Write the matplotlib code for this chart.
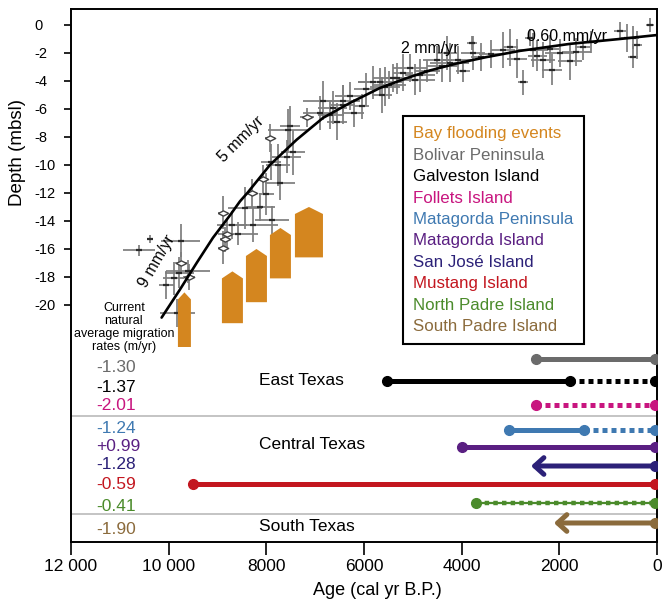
import numpy as np
import matplotlib.pyplot as plt
from matplotlib.lines import Line2D

plt.rcParams['font.family'] = ['Liberation Sans', 'DejaVu Sans']
plt.rcParams['axes.unicode_minus'] = False

# relative sea-level curve (cal yr B.P., m below sea level)
curve_age = [10144, 9769, 9427, 9093, 8745, 8540, 8376, 7926, 7380, 6840,
             6288, 5673, 5120, 4650, 4100, 3500, 2806, 1782, 758, 0]
curve_depth = [-20.9, -18.9, -17.0, -15.2, -13.6, -12.6, -11.95, -10.0, -8.2, -6.64,
               -5.57, -4.5, -3.79, -3.25, -2.75, -2.3, -1.85, -1.35, -1.0, -0.72]

# dated sea-level indicators
age = [10600, 10380, 9750, 9740, 9780, 9590, 10050, 9900, 9820, 9600,
       8890, 8810, 8850, 8890, 8300, 8060, 8440, 8130, 7880, 8270,
       8700, 8580, 7760, 7720, 7930, 7560, 7520, 7450, 7580, 7900,
       8000, 7170, 6900, 6700, 6640, 6550, 6840, 6430, 6290, 6430,
       6200, 6050, 5820, 5670, 5570, 5630, 5410, 5330, 5060, 4850,
       4700, 4500, 4240, 4080, 4300, 3970, 3770, 3790, 3600, 3150,
       2870, 2740, 2540, 2340, 2150, 1990, 1780, 1520, 2600, 2200,
       760, 610, 490, 410, 490, 140,
       5950, 5480, 5200, 4950, 4400, 3400, 3000, 2450, 1650, 1350]
depth = [-16.1, -15.3, -15.4, -17.0, -17.7, -18.0, -18.6, -18.1, -20.6, -17.6,
         -13.4, -14.9, -15.3, -15.9, -12.0, -11.0, -13.1, -13.0, -13.9, -14.3,
         -14.3, -14.9, -10.0, -11.3, -8.1, -7.5, -7.2, -9.1, -9.4, -9.8,
         -12.1, -6.6, -6.3, -6.4, -5.9, -6.9, -5.4, -5.4, -5.1, -5.7,
         -6.3, -5.8, -4.1, -4.1, -4.4, -5.0, -3.8, -3.8, -3.1, -3.6,
         -3.3, -2.5, -2.7, -2.5, -2.0, -3.3, -2.0, -1.3, -2.3, -1.8,
         -2.4, -4.1, -1.8, -2.5, -3.2, -2.0, -2.6, -1.6, -0.9, -1.7,
         -0.4, -0.9, -0.9, -1.4, -2.3, 0.0,
         -4.6, -4.3, -3.4, -3.9, -2.9, -2.1, -1.6, -2.2, -1.9, -1.2]
age_err = [330, 0, 400, 120, 300, 120, 150, 220, 350, 450,
           100, 100, 100, 100, 100, 100, 350, 300, 350, 500,
           300, 400, 250, 300, 100, 400, 200, 250, 300, 200,
           150, 150, 350, 250, 300, 200, 400, 350, 300, 250,
           200, 150, 300, 450, 300, 200, 400, 250, 350, 300,
           250, 300, 400, 300, 200, 150, 250, 100, 200, 250,
           200, 100, 300, 250, 200, 300, 250, 150, 100, 200,
           120, 150, 120, 100, 100, 80,
           250, 350, 200, 400, 300, 250, 150, 200, 300, 150]
depth_err = [0.4, 0.3, 1.2, 0.8, 1.1, 0.9, 1.0, 1.2, 1.0, 0.8,
             1.2, 1.0, 0.9, 1.2, 1.0, 1.0, 1.5, 1.0, 1.0, 1.2,
             1.0, 0.8, 1.5, 1.2, 1.0, 1.5, 1.4, 1.6, 1.2, 1.3,
             1.5, 0.7, 1.2, 1.0, 1.2, 1.3, 1.4, 1.1, 1.0, 1.4,
             1.0, 0.9, 1.2, 1.0, 1.4, 1.3, 1.0, 1.1, 1.0, 1.2,
             0.8, 1.0, 1.4, 1.0, 1.2, 0.8, 1.2, 0.5, 1.0, 1.3,
             1.4, 0.9, 1.2, 1.3, 1.1, 1.0, 1.3, 0.9, 0.6, 1.0,
             0.6, 1.0, 0.8, 1.0, 0.8, 0.5,
             1.2, 1.0, 1.3, 1.1, 1.2, 1.0, 1.3, 1.1, 1.0, 0.8]
is_diamond = [0, 0, 0, 1, 0, 1, 0, 0, 0, 0,
              1, 1, 1, 1, 1, 1, 0, 0, 0, 0,
              0, 0, 0, 0, 1, 0, 0, 0, 0, 0,
              0, 1, 0, 0, 0, 0, 0, 0, 0, 0,
              0, 0, 0, 0, 0, 0, 0, 0, 0, 0,
              0, 0, 0, 0, 0, 0, 0, 0, 0, 0,
              0, 0, 0, 0, 0, 0, 0, 0, 0, 0,
              0, 0, 0, 0, 0, 0,
              0, 0, 0, 0, 0, 0, 0, 0, 0, 0]

# bay flooding events
flood_age = [9677, 8694, 8202, 7711, 7127]
flood_width = [266, 430, 430, 430, 574]
flood_top = [-19.1, -17.6, -16.0, -14.5, -13.0]
flood_bottom = [-23.0, -21.3, -19.8, -18.1, -16.6]

# barrier island migration records
islands = ['Bolivar Peninsula', 'Galveston Island', 'Follets Island',
           'Matagorda Peninsula', 'Matagorda Island', 'San José Island',
           'Mustang Island', 'North Padre Island', 'South Padre Island']
rates = ['-1.30', '-1.37', '-2.01', '-1.24', '+0.99', '-1.28', '-0.59', '-0.41', '-1.90']
start_age = [2480, 5530, 2480, 3030, 3990, 2580, 9500, 3700, 2110]
solid_to = [50, 1780, 2480, 1495, 50, 50, 50, 3700, 50]
end_age = [50, 50, 50, 50, 50, 50, 50, 50, 50]
has_arrow = [0, 0, 0, 0, 0, 1, 0, 0, 1]
beaded = [0, 0, 0, 0, 0, 0, 0, 1, 0]
island_colors = ['#6b6b6b', '#000000', '#c8157f', '#3f79b1', '#5a1f82',
                 '#2c2178', '#c3161f', '#4b8b2b', '#8b6b3c']
flood_color = '#d4861f'

regions = ['East Texas', 'Central Texas', 'South Texas']
rate_notes = ['9 mm/yr', '5 mm/yr', '2 mm/yr', '0.60 mm/yr']
note_age = [10240, 8520, 4660, 1850]
note_depth = [-16.9, -8.15, -1.7, -0.8]

# layout of the lower panel (in depth-axis units)
row_y = [-23.86, -25.43, -27.14, -28.93, -30.14, -31.5, -32.79, -34.14, -35.57]
label_y = [-24.5, -25.9, -27.2, -28.8, -30.1, -31.4, -32.8, -34.4, -36.0]
region_y = [-25.36, -29.93, -35.8]
separators = [-27.93, -34.93]
note_rot = [60, 45, 0, 0]

fig = plt.figure(figsize=(6.67, 6.04), dpi=100)
ax = fig.add_axes([0.1064, 0.1026, 0.8786, 0.8825])

# sample error crosses
ax.errorbar(age, depth, xerr=age_err, yerr=depth_err, fmt='none',
            ecolor='#7d7d7d', elinewidth=1.25, capsize=0, zorder=2)
age_a = np.array(age)
depth_a = np.array(depth)
dmask = np.array(is_diamond) == 1
ax.plot(age_a[~dmask], depth_a[~dmask], linestyle='none', marker='_',
        ms=5, mew=1.6, color='#2a2a2a', zorder=3)
diamond = [(-1, 0), (0, 0.5), (1, 0), (0, -0.5), (-1, 0)]
ax.plot(age_a[dmask], depth_a[dmask], linestyle='none', marker=diamond,
        ms=7.5, mfc='white', mec='#444444', mew=1.0, zorder=4)

ax.plot(curve_age, curve_depth, color='black', lw=1.9, zorder=5,
        solid_capstyle='round', solid_joinstyle='round')

for t, a, d, r in zip(rate_notes, note_age, note_depth, note_rot):
    ax.text(a, d, t, fontsize=11.5, rotation=r, ha='center', va='center',
            rotation_mode='anchor', zorder=6)

# bay flooding events as upward blocks
for c, w, top, bot in zip(flood_age, flood_width, flood_top, flood_bottom):
    shoulder = top - 0.5
    xs = [c - w / 2, c - w / 2, c, c + w / 2, c + w / 2]
    ys = [bot, shoulder, top, shoulder, bot]
    ax.fill(xs, ys, color=flood_color, lw=0, zorder=3)

# lower panel
for s in separators:
    ax.axhline(s, color='#c4c4c4', lw=1.4, zorder=1)

for i, name in enumerate(islands):
    y = row_y[i]
    col = island_colors[i]
    if has_arrow[i]:
        ax.annotate('', xy=(start_age[i], y), xytext=(end_age[i], y),
                    arrowprops=dict(arrowstyle='->,head_length=0.55,head_width=0.5',
                                    lw=3.6, color=col, shrinkA=0, shrinkB=0,
                                    mutation_scale=12), zorder=4)
        ax.plot([end_age[i]], [y], 'o', color=col, ms=7, zorder=5)
        continue
    if solid_to[i] < start_age[i]:
        ax.plot([start_age[i], solid_to[i]], [y, y], color=col, lw=3.6,
                solid_capstyle='butt', zorder=4)
    if solid_to[i] > end_age[i]:
        if beaded[i]:
            ax.plot([solid_to[i], end_age[i]], [y, y], color=col, lw=1.6, zorder=4)
            ax.plot([solid_to[i], end_age[i]], [y, y], color=col, lw=3.2,
                    linestyle=(0, (1, 0.95)), zorder=4)
        else:
            ax.plot([solid_to[i], end_age[i]], [y, y], color=col, lw=3.6,
                    linestyle=(0, (1, 0.8)), zorder=4)
    ends = [start_age[i], end_age[i]]
    if end_age[i] < solid_to[i] < start_age[i]:
        ends.append(solid_to[i])
    ax.plot(ends, [y] * len(ends), 'o', color=col, ms=7, linestyle='none', zorder=5)

for i, r in enumerate(rates):
    ax.text(11490, label_y[i], r, color=island_colors[i], fontsize=12.5,
            ha='left', va='center')

for name, y in zip(regions, region_y):
    ax.text(8150, y, name, fontsize=12.5, ha='left', va='center')

ax.text(10915, -21.6, 'Current\nnatural\naverage migration\nrates (m/yr)',
        fontsize=9, ha='center', va='center', linespacing=1.12)

# legend of coloured names
names = ['Bay flooding events'] + islands
name_colors = [flood_color] + island_colors
handles = [Line2D([], [], linestyle='none') for _ in names]
leg = ax.legend(handles, names, loc='upper left', bbox_to_anchor=(0.567, 0.799),
                borderaxespad=0, handlelength=0, handletextpad=0,
                labelcolor=name_colors, fancybox=False, edgecolor='black',
                framealpha=1, fontsize=12.2, borderpad=0.6, labelspacing=0.38)
leg.get_frame().set_linewidth(1.5)

ax.set_xlim(12000, 0)
ax.set_ylim(-36.93, 1.14)
ax.set_xticks([12000, 10000, 8000, 6000, 4000, 2000, 0])
ax.set_xticklabels(['12 000', '10 000', '8000', '6000', '4000', '2000', '0'])
ax.set_yticks(np.arange(0, -21, -2))
ax.set_yticklabels([str(v) for v in range(0, -21, -2)])
ax.tick_params(axis='x', length=9, width=1.2, labelsize=12.5, pad=3)
ax.tick_params(axis='y', length=5, width=1.2, labelsize=10.5, pad=21.5)
for t in ax.get_yticklabels():
    t.set_horizontalalignment('left')
for sp in ax.spines.values():
    sp.set_linewidth(1.4)

ax.set_xlabel('Age (cal yr B.P.)', fontsize=13, va='center')
ax.xaxis.set_label_coords(0.5235, -0.090)
ax.set_ylabel('Depth (mbsl)', fontsize=13.5, va='center')
ax.yaxis.set_label_coords(-0.0904, 0.7317)

fig.savefig('out.png', dpi=100)
